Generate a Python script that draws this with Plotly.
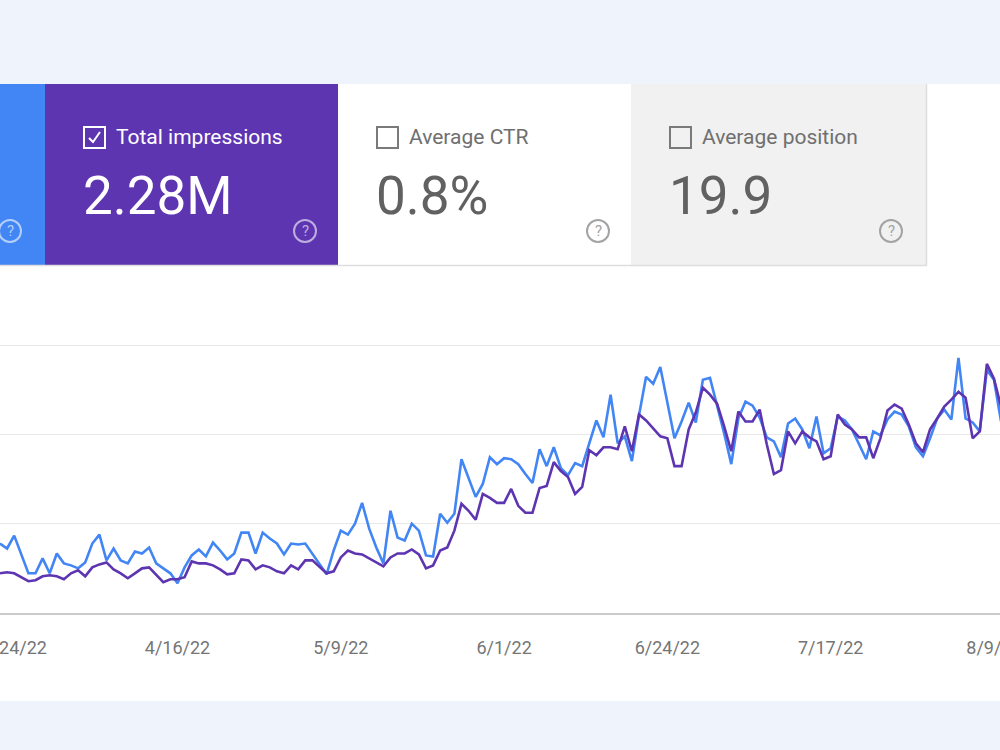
import pandas as pd
import plotly.graph_objects as go

# ---------------- data ----------------
start_date = "2022-03-22"

clicks = [
    70, 65, 78, 59, 40, 40, 55, 40, 60, 50,
    48, 45, 51, 70, 79, 53, 65, 53, 50, 62,
    60, 66, 50, 45, 40, 30, 46, 58, 64, 57,
    71, 63, 54, 60, 81, 81, 60, 81, 75, 70,
    59, 70, 69, 70, 60, 50, 39, 63, 83, 79,
    90, 111, 85, 66, 50, 103, 76, 73, 90, 83,
    58, 57, 100, 91, 100, 155, 136, 117, 130, 157,
    150,
    156, 155, 150, 140, 131, 165, 148, 167, 146, 139,
    151, 148, 170, 194, 177, 220, 171, 178, 153, 199,
    238, 231, 248, 211, 176, 193, 212, 192, 235, 237,
    210, 181, 150, 196, 213, 209, 197, 177, 173, 157,
    191, 196, 185, 166, 198, 161, 166, 198, 194, 185,
    170, 155, 183, 179, 195, 203, 200, 188, 167, 158,
    176, 196, 205, 195, 257, 196, 192, 183, 245, 235,
    193,
]

impressions = [
    6000, 6150, 6000, 5400, 4800, 4950, 5550, 5700, 5550, 5100,
    6000, 6450, 5550, 6900, 7350, 7650, 6600, 6000, 5250, 6000,
    6750, 6900, 5700, 4650, 5100, 5100, 5400, 7800, 7500, 7500,
    7200, 6600, 5850, 6000, 8100, 7950, 6600, 7200, 6900, 6300,
    6000, 7200, 6600, 7950, 7950, 6900, 6000, 6300, 8400, 9450,
    9000, 8850, 8250, 7650, 7050, 8400, 9000, 9000, 9600, 8850,
    6750, 7200, 9450, 9900, 12450, 16500, 15450, 14100, 18000, 17400,
    16650,
    16650, 18750, 16200, 15150, 15150, 18900, 19200, 22800, 21450, 20550,
    18000, 19050, 24600, 23850, 25050, 25050, 24750, 28200, 24450, 30000,
    29100, 27900, 26700, 26400, 22200, 22200, 27750, 30300, 34050, 33000,
    31650, 28200, 24450, 30450, 28950, 28950, 30750, 25500, 21000, 21600,
    27450, 25650, 27450, 26550, 25950, 23250, 23700, 30000, 28500, 27750,
    26550, 26550, 23400, 26400, 30600, 31500, 30900, 28500, 25650, 24300,
    27750, 29400, 31200, 32250, 33450, 32550, 26400, 27450, 37650, 35400,
    31200,
]

tick_dates = ["2022-03-24", "2022-04-16", "2022-05-09", "2022-06-01",
              "2022-06-24", "2022-07-17", "2022-08-09"]
tick_labels = ["3/24/22", "4/16/22", "5/9/22", "6/1/22",
               "6/24/22", "7/17/22", "8/9/22"]

card_titles = ["Total impressions", "Average CTR", "Average position"]
card_values = ["2.28M", "0.8%", "19.9"]

dates = pd.date_range(start_date, periods=len(clicks), freq="D")

# ---------------- style ----------------
W, H = 1000, 750
FONT = "Roboto"
BLUE = "#4285f4"
PURPLE = "#5e35b1"
BG = "#eff3fc"


def px(x):
    return x / W


def py(y):
    return 1 - y / H


fig = go.Figure()

fig.add_trace(go.Scatter(
    x=dates, y=impressions, mode="lines", yaxis="y2",
    line=dict(color=PURPLE, width=2.6), hoverinfo="skip",
))
fig.add_trace(go.Scatter(
    x=dates, y=clicks, mode="lines", yaxis="y",
    line=dict(color=BLUE, width=2.6), hoverinfo="skip",
))

shapes = []
# white panel
shapes.append(dict(type="rect", xref="paper", yref="paper", layer="below",
                   x0=0, x1=1, y0=py(701), y1=py(84),
                   fillcolor="white", line=dict(width=0)))

# cards
cards = [
    (0, 45, BLUE),
    (45, 338, PURPLE),
    (338, 631, "#ffffff"),
    (631, 926, "#f1f1f1"),
]
for x0, x1, col in cards:
    shapes.append(dict(type="rect", xref="paper", yref="paper", layer="below",
                       x0=px(x0), x1=px(x1), y0=py(265), y1=py(84),
                       fillcolor=col, line=dict(width=0)))
# card bottom border and right shadow
shapes.append(dict(type="line", xref="paper", yref="paper", layer="below",
                   x0=px(0), x1=px(927), y0=py(265.5), y1=py(265.5),
                   line=dict(color="#dedede", width=1.5)))
shapes.append(dict(type="line", xref="paper", yref="paper", layer="below",
                   x0=px(926.5), x1=px(926.5), y0=py(265.5), y1=py(84),
                   line=dict(color="#dedede", width=1.5)))

annotations = []

# checkboxes + titles + values
card_lefts = [45, 338, 631]
title_colors = ["white", "#6f6f6f", "#6f6f6f"]
value_colors = ["white", "#616161", "#616161"]
box_colors = ["white", "#7a7a7a", "#7a7a7a"]
for i, left in enumerate(card_lefts):
    bx0 = left + 39
    bx1 = bx0 + 21
    by0, by1 = 127, 148
    shapes.append(dict(type="rect", xref="paper", yref="paper",
                       x0=px(bx0), x1=px(bx1), y0=py(by1), y1=py(by0),
                       line=dict(color=box_colors[i], width=2),
                       fillcolor="rgba(0,0,0,0)"))
    if i == 0:
        path = "M {:.5f} {:.5f} L {:.5f} {:.5f} L {:.5f} {:.5f}".format(
            px(bx0 + 5), py(138), px(bx0 + 9), py(142), px(bx0 + 16), py(132))
        shapes.append(dict(type="path", xref="paper", yref="paper", path=path,
                           line=dict(color="white", width=2)))
    annotations.append(dict(
        xref="paper", yref="paper", x=px(left + 69), y=py(137),
        xanchor="left", yanchor="middle", showarrow=False,
        text=card_titles[i], font=dict(family=FONT, size=21, color=title_colors[i])))
    annotations.append(dict(
        xref="paper", yref="paper", x=px(left + 36), y=py(196),
        xanchor="left", yanchor="middle", showarrow=False,
        text=card_values[i], font=dict(family=FONT, size=53, color=value_colors[i])))

# help icons
help_icons = [(10, "rgba(255,255,255,0.6)"), (305, "rgba(255,255,255,0.6)"),
              (598, "#a3a3a3"), (891, "#a3a3a3")]
for cx, col in help_icons:
    cy, r = 231, 11
    shapes.append(dict(type="circle", xref="paper", yref="paper",
                       x0=px(cx - r), x1=px(cx + r), y0=py(cy + r), y1=py(cy - r),
                       line=dict(color=col, width=2), fillcolor="rgba(0,0,0,0)"))
    annotations.append(dict(
        xref="paper", yref="paper", x=px(cx), y=py(cy + 0.5),
        xanchor="center", yanchor="middle", showarrow=False,
        text="?", font=dict(family=FONT, size=15, color=col)))

end_date = pd.Timestamp(start_date) + pd.Timedelta(days=140.85)

fig.update_layout(
    width=W, height=H,
    margin=dict(l=0, r=0, t=0, b=0, autoexpand=False),
    paper_bgcolor=BG, plot_bgcolor="rgba(0,0,0,0)",
    showlegend=False, hovermode=False,
    shapes=shapes, annotations=annotations,
    xaxis=dict(
        domain=[0, 1], range=[pd.Timestamp(start_date), end_date],
        tickmode="array", tickvals=tick_dates, ticktext=tick_labels,
        ticks="outside", ticklen=17, tickcolor="rgba(0,0,0,0)",
        ticklabeloverflow="allow", automargin=False,
        tickfont=dict(family=FONT, size=18, color="#757575"),
        showgrid=False, zeroline=False,
        showline=True, linecolor="#cbcbcb", linewidth=2,
        fixedrange=True,
    ),
    yaxis=dict(
        domain=[py(613), py(315.3)], range=[0, 300],
        tickmode="array", tickvals=[90, 180, 270], showticklabels=False,
        showgrid=True, gridcolor="#e8e8e8", gridwidth=1.2,
        zeroline=False, showline=False, fixedrange=True, automargin=False,
    ),
    yaxis2=dict(
        domain=[py(613), py(315.3)], range=[0, 45000], overlaying="y",
        visible=False, showgrid=False, zeroline=False, fixedrange=True,
    ),
)

fig.write_html("out.html")
